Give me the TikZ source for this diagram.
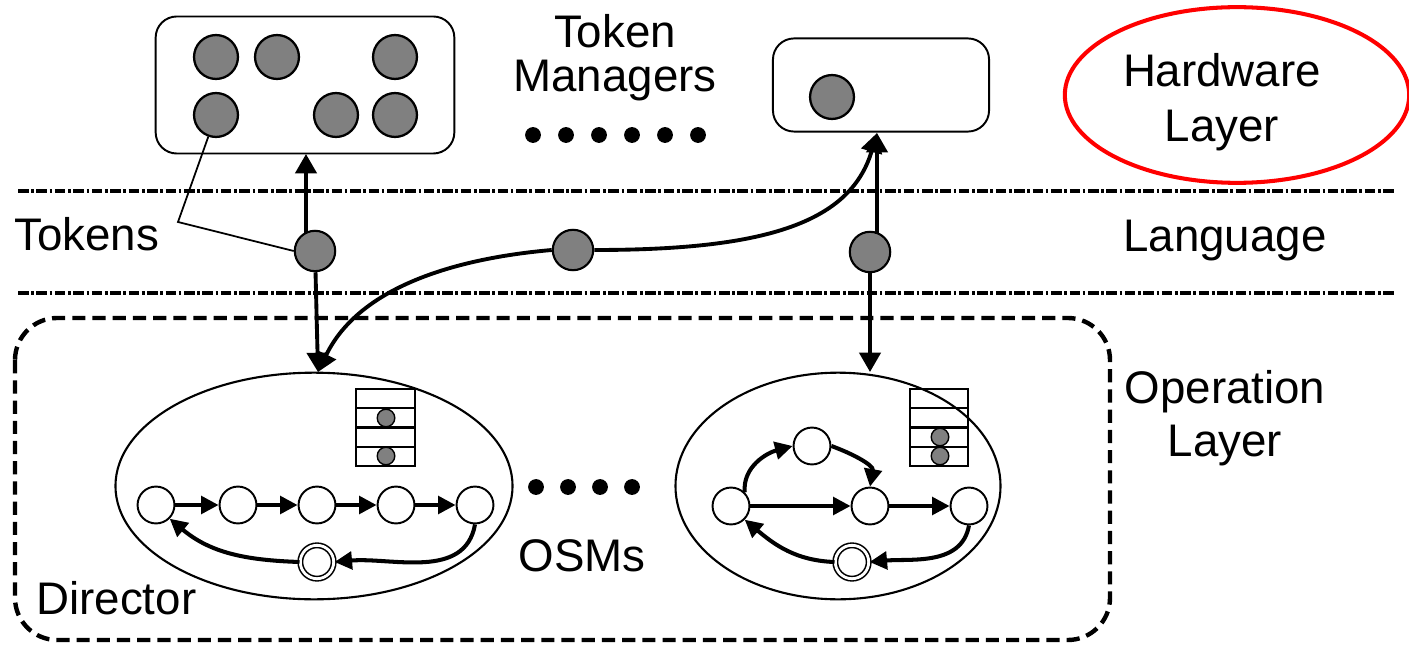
\documentclass[tikz,border=0pt]{standalone}
\usepackage{fontspec}
\setmainfont{Liberation Sans}
\usetikzlibrary{arrows.meta,shapes.geometric}
\tikzset{
  lbl/.style={font=\fontsize{26}{25}\selectfont, align=center, inner sep=0pt},
  tokbig/.style={circle, draw, line width=1.3pt, fill=black!50, minimum size=25pt, inner sep=0pt},
  tok/.style={circle, draw, line width=1.2pt, fill=black!50, minimum size=23pt, inner sep=0pt},
  st/.style={circle, draw, line width=1.1pt, fill=white, minimum size=21pt, inner sep=0pt},
  fin/.style={circle, draw, double, double distance=1.6pt, line width=0.9pt, fill=white, minimum size=19pt, inner sep=0pt},
  box/.style={draw, line width=1.1pt, rounded corners=12pt},
  arr/.style={line width=2.3pt, -{Triangle[length=10pt,width=10pt]}},
  varr/.style={line width=2.2pt, -{Triangle[length=11pt,width=12pt]}},
  sep/.style={line width=1.9pt, dash pattern=on 6pt off 1.5pt on 1.5pt off 1.5pt},
  osm/.style={ellipse, draw, line width=1.2pt},
  qdot/.style={circle, fill=black!50, draw, line width=0.8pt, minimum size=10pt, inner sep=0pt},
  bigdot/.style={circle, fill=black, minimum size=9pt, inner sep=0pt},
}
\begin{document}
\begin{tikzpicture}[x=0.02cm, y=-0.02cm]
\useasboundingbox (0,0) rectangle (1409,645);

% top boxes
\node[box, minimum width=170pt, minimum height=78pt] (tm1) at (305,85) {};
\node[tokbig] (c1) at (216,57) {};
\node[tokbig] (c2) at (277,57) {};
\node[tokbig] (c3) at (395,57) {};
\node[tokbig] (c4) at (216,115) {};
\node[tokbig] (c5) at (336,115) {};
\node[tokbig] (c6) at (395,115) {};

\node[box, minimum width=123pt, minimum height=53pt] (tm2) at (881,85) {};
\node[tokbig] (c7) at (832,97) {};

\node[lbl] (tmlbl) at (615,58) {Token\\Managers};
\foreach \i in {0,...,5} \node[bigdot] (d\i) at (533+\i*33,135) {};

% hardware layer
\node[ellipse, draw=red, line width=2.3pt, minimum width=196pt, minimum height=100pt] (hw) at (1237,95) {};
\node[lbl, font=\fontsize{26}{31}\selectfont] (hwlbl) at (1222,102) {Hardware\\Layer};

% separators
\coordinate (s1a) at (18,191); \coordinate (s1b) at (1395,191);
\coordinate (s2a) at (18,293); \coordinate (s2b) at (1395,293);
\draw[sep] (s1a) -- (s1b);
\draw[sep] (s2a) -- (s2b);

\node[lbl, anchor=west] (toklbl) at (14,234) {Tokens};
\node[lbl] (langlbl) at (1225,241) {Language};

% tokens
\node[tok] (t1) at (315,251) {};
\node[tok] (t2) at (573,250) {};
\node[tok] (t3) at (870,252) {};

% operation layer
\draw[line width=2.5pt, dash pattern=on 7.5pt off 4pt, rounded corners=24pt] (15,318) rectangle (1110,640);
\node[lbl, font=\fontsize{26}{30}\selectfont] (oplbl) at (1225,418) {Operation\\Layer};
\node[lbl, anchor=west] (dirlbl) at (36,598) {Director};
\node[lbl] (osmlbl) at (582,556) {OSMs};
\foreach \i in {0,...,3} \node[bigdot] (e\i) at (536+\i*32,487) {};

% OSM ellipses
\node[osm, minimum width=226pt, minimum height=129pt] (osm1) at (314,486) {};
\node[osm, minimum width=185pt, minimum height=129pt] (osm2) at (838,486) {};

% queues
\foreach \r in {0,...,3} \draw[line width=1.2pt] (356,389+\r*19.25) rectangle (415,408.25+\r*19.25);
\node[qdot] (q1) at (386,418) {};
\node[qdot] (q2) at (386,456) {};
\foreach \r in {0,...,3} \draw[line width=1.2pt] (910,389+\r*19.25) rectangle (968,408.25+\r*19.25);
\node[qdot] (q3) at (940,437) {};
\node[qdot] (q4) at (940,456) {};

% connectors between layers
\coordinate (o1top) at (318,372);
\coordinate (o2top) at (870,372);
\coordinate (tm1in) at (306,154);
\coordinate (tm2in) at (877,133);
\coordinate (t1up) at (306,233);
\coordinate (t3up) at (877,234);
\draw[varr] (t1up) -- (tm1in);
\draw[varr] (t1) -- (o1top);
\draw[varr] (t3up) -- (tm2in);
\draw[varr] (t3) -- (o2top);
\draw[line width=2.2pt, -{Triangle[length=11pt,width=12pt]}] (t2.west) .. controls (460,258) and (360,285) .. (o1top);
\draw[line width=2.2pt, -{Triangle[length=11pt,width=12pt]}] (t2.east) .. controls (760,250) and (850,225) .. (tm2in);
\coordinate (tk1) at (178,222);
\draw[line width=1pt] (c4) -- (tk1) -- (t1.west);

% left OSM states
\node[st] (a1) at (156,505) {};
\node[st] (a2) at (238,505) {};
\node[st] (a3) at (317,505) {};
\node[st] (a4) at (396,505) {};
\node[st] (a5) at (475,505) {};
\node[fin] (af) at (317,562) {};
\draw[arr] (a1) -- (a2);
\draw[arr] (a2) -- (a3);
\draw[arr] (a3) -- (a4);
\draw[arr] (a4) -- (a5);
\draw[arr] (a5.south) to[out=-100, in=5] (af.east);
\draw[arr] (af.west) to[out=178, in=-40] (a1.south east);

% right OSM states
\node[st] (b1) at (731,506) {};
\node[st] (b2) at (812,446) {};
\node[st] (b3) at (870,506) {};
\node[st] (b4) at (969,506) {};
\node[fin] (bf) at (852,562) {};
\draw[arr] (b1) -- (b3);
\draw[arr] (b3) -- (b4);
\draw[arr] (b1.north east) to[out=95, in=195] (b2.west);
\draw[arr] (b2.east) to[out=-20, in=80] (b3.north);
\draw[arr] (b4.south) to[out=-100, in=5] (bf.east);
\draw[arr] (bf.west) to[out=178, in=-40] (b1.south east);
\end{tikzpicture}
\end{document}
